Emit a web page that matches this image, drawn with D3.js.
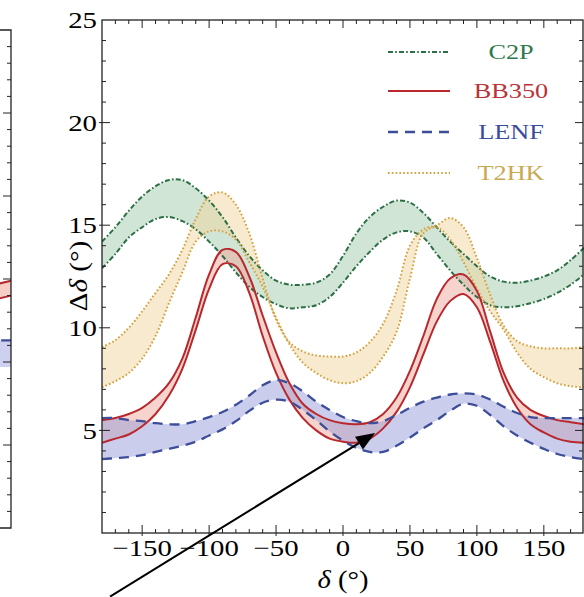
<!DOCTYPE html>
<html>
<head>
<meta charset="utf-8">
<script src="https://cdn.jsdelivr.net/npm/d3@7"></script>
<style>
  body { margin: 0; background: #fff; }
  svg { display: block; }
</style>
</head>
<body>
<div id="chart"></div>
<script>
// delta grid (degrees) shared by every band
const deltas = [-180,-170,-160,-150,-140,-130,-120,-110,-100,-90,-80,-70,-60,-50,-40,-30,-20,-10,0,
                10,20,30,40,50,60,70,80,90,100,110,120,130,140,150,160,170,180];

// C2P band (dash-dot, green)
const c2pUpper = [14.2,14.9,15.7,16.4,16.9,17.2,17.2,16.8,16.2,15.4,14.4,13.5,12.8,12.3,12.1,12.1,12.2,12.6,13.5,
                  14.6,15.4,15.9,16.2,16.1,15.6,14.9,14.2,13.6,13.0,12.5,12.25,12.2,12.3,12.5,12.8,13.3,13.9];
const c2pLower = [12.9,13.6,14.4,14.9,15.3,15.4,15.2,14.8,14.2,13.5,12.7,12.0,11.5,11.15,10.95,11.0,11.1,11.5,12.2,
                  13.0,13.7,14.3,14.65,14.7,14.4,13.6,12.8,12.1,11.5,11.1,11.0,11.05,11.2,11.4,11.7,12.1,12.6];

// BB350 band (solid, red)
const bb350Upper = [5.5,5.6,5.8,6.1,6.6,7.3,8.5,10.5,12.6,13.8,13.7,12.5,10.6,8.8,7.3,6.3,5.8,5.5,5.35,
                    5.3,5.4,5.8,6.6,7.9,9.6,11.4,12.4,12.6,11.8,9.8,7.8,6.6,6.0,5.7,5.5,5.4,5.3];
const bb350Lower = [4.4,4.6,4.8,5.2,5.8,6.7,8.0,9.9,11.9,13.1,13.0,11.7,9.6,7.8,6.5,5.6,5.0,4.6,4.45,
                    4.4,4.6,5.1,5.9,7.1,8.7,10.3,11.3,11.65,11.0,9.3,7.4,6.1,5.3,4.9,4.6,4.45,4.4];

// LENF band (dashed, blue)
const lenfUpper = [5.6,5.6,5.5,5.45,5.35,5.3,5.3,5.45,5.65,5.9,6.25,6.7,7.2,7.45,7.3,6.9,6.4,6.0,5.65,
                   5.45,5.35,5.45,5.75,6.1,6.4,6.6,6.75,6.8,6.75,6.5,6.15,5.85,5.65,5.6,5.6,5.6,5.6];
const lenfLower = [3.6,3.65,3.7,3.8,3.95,4.1,4.25,4.45,4.75,5.05,5.45,5.95,6.35,6.5,6.4,6.0,5.5,4.95,4.5,
                   4.15,3.95,3.95,4.25,4.65,5.1,5.5,5.95,6.3,6.2,5.75,5.2,4.75,4.4,4.1,3.85,3.7,3.6];

// T2HK band (dotted, orange)
const t2hkUpper = [9.05,9.4,10.0,10.8,11.7,12.6,13.8,15.3,16.4,16.6,16.0,14.6,12.4,10.4,9.3,8.85,8.65,8.6,8.6,
                   8.8,9.3,10.2,11.8,14.0,14.8,15.0,15.35,14.9,13.4,11.6,10.1,9.35,9.1,9.0,9.0,9.0,9.05];
const t2hkLower = [7.1,7.4,7.8,8.5,9.6,11.2,12.7,14.2,14.7,14.7,14.3,13.2,12.0,10.5,9.2,8.3,7.8,7.45,7.3,
                   7.4,7.8,8.6,9.8,12.4,14.6,14.9,14.3,13.2,11.9,10.8,9.9,8.8,8.0,7.6,7.3,7.15,7.1];

// right edge of the neighbouring (left) panel that shows at the picture's left border
const leftDeltas = [160,170,180];
const leftRedUpper = [14.5,14.7,14.9];
const leftRedLower = [13.6,13.8,14.0];
const leftBlueUpper = [11.2,11.3,11.3];
const leftBlueLower = [9.6,9.7,9.7];

const xTickLabels = [-150,-100,-50,0,50,100,150];
const yTickLabels = [5,10,15,20,25];
const legendNames = ["C2P","BB350","LENF","T2HK"];

// annotation arrow, in data coordinates
const arrowFrom = [-174,-3.1];
const arrowTo = [24,4.87];

const w = 584, h = 597;
const serif = "'Liberation Serif','Times New Roman',serif";

const svg = d3.select("#chart").append("svg")
  .attr("width", w)
  .attr("height", h);

const x = d3.scaleLinear().domain([-180,180]).range([102,584]);
const y = d3.scaleLinear().domain([0,25]).range([533,20]);

// ---- left panel remains ----
const xl = d3.scaleLinear().domain([-180,180]).range([-471,11]);
const yl = d3.scaleLinear().domain([0,30]).range([528,30]);
const leftG = svg.append("g");
const leftArea = (up, lo) => d3.area()
  .x((d,i) => xl(leftDeltas[i])).y0((d,i) => yl(lo[i])).y1((d,i) => yl(up[i]))(leftDeltas);
const leftLine = arr => d3.line().x((d,i) => xl(leftDeltas[i])).y((d,i) => yl(arr[i]))(leftDeltas);
leftG.append("path").attr("d", leftArea(leftRedUpper, leftRedLower)).attr("fill", "#f5cdc5");
leftG.append("path").attr("d", leftArea(leftBlueUpper, leftBlueLower)).attr("fill", "#cdd0ee");
leftG.append("path").attr("d", leftLine(leftRedUpper)).attr("fill","none").attr("stroke","#b22a2e").attr("stroke-width",2);
leftG.append("path").attr("d", leftLine(leftRedLower)).attr("fill","none").attr("stroke","#b22a2e").attr("stroke-width",2);
leftG.append("path").attr("d", leftLine(leftBlueUpper)).attr("fill","none").attr("stroke","#3d4d9a")
  .attr("stroke-width",2.2).attr("stroke-dasharray","10,7");
leftG.append("path")
  .attr("d", `M0,${yl(30)}H${xl(180)}V${yl(0)}H0`)
  .attr("fill","none").attr("stroke","#222").attr("stroke-width",1.3);
leftG.selectAll("line.lt")
  .data(d3.range(1,30))
  .join("line")
  .attr("x1", xl(180)).attr("x2", d => xl(180) - (d % 5 === 0 ? 8 : 4))
  .attr("y1", d => yl(d)).attr("y2", d => yl(d))
  .attr("stroke","#222").attr("stroke-width",1);

// ---- main panel ----
svg.append("defs").append("clipPath").attr("id","plotclip")
  .append("rect").attr("x",102).attr("y",20).attr("width",482).attr("height",513);

const series = [
  {name:"C2P",   up:c2pUpper,   lo:c2pLower,   stroke:"#2b6f46", fill:"#a3ccae", op:0.5,  dash:"5,2.2,1.6,2.2", sw:2,   text:"#2f7a4c"},
  {name:"T2HK",  up:t2hkUpper,  lo:t2hkLower,  stroke:"#d4a03c", fill:"#f0d5a0", op:0.5,  dash:"1.6,2.2",       sw:2,   text:"#c9a950"},
  {name:"BB350", up:bb350Upper, lo:bb350Lower, stroke:"#b8282d", fill:"#eea79a", op:0.5,  dash:null,            sw:2,   text:"#b8333a"},
  {name:"LENF",  up:lenfUpper,  lo:lenfLower,  stroke:"#3d4d9a", fill:"#969ed9", op:0.5,  dash:"10,7",          sw:2.3, text:"#3a4b9c"}
];

const curve = d3.curveCatmullRom.alpha(0.5);
const plot = svg.append("g").attr("clip-path","url(#plotclip)");

series.forEach(s => {
  const area = d3.area()
    .x((d,i) => x(deltas[i]))
    .y0((d,i) => y(s.lo[i]))
    .y1((d,i) => y(s.up[i]))
    .curve(curve);
  plot.append("path").datum(deltas).attr("d", area)
    .attr("fill", s.fill).attr("fill-opacity", s.op);
});

series.forEach(s => {
  [s.up, s.lo].forEach(arr => {
    const line = d3.line().x((d,i) => x(deltas[i])).y((d,i) => y(arr[i])).curve(curve);
    plot.append("path").datum(deltas).attr("d", line)
      .attr("fill","none")
      .attr("stroke", s.stroke)
      .attr("stroke-width", s.sw)
      .attr("stroke-dasharray", s.dash);
  });
});

// frame
svg.append("rect")
  .attr("x",102).attr("y",20).attr("width",481).attr("height",513)
  .attr("fill","none").attr("stroke","#222").attr("stroke-width",1.3);

// ticks, inward on all four sides
const tickG = svg.append("g").attr("stroke","#222").attr("stroke-width",1);
const xTicks = d3.range(-170,180,10);
const yTicks = d3.range(1,25,1);
const isMajX = d => d % 50 === 0, isMajY = d => d % 5 === 0;
tickG.selectAll("line.xb").data(xTicks).join("line")
  .attr("x1", d => x(d)).attr("x2", d => x(d))
  .attr("y1", d => y(0) + (isMajX(d) ? 3 : 0)).attr("y2", d => y(0) - (isMajX(d) ? 8 : 4));
tickG.selectAll("line.xt").data(xTicks).join("line")
  .attr("x1", d => x(d)).attr("x2", d => x(d))
  .attr("y1", y(25)).attr("y2", d => y(25) + (isMajX(d) ? 8 : 4));
tickG.selectAll("line.yl").data(yTicks).join("line")
  .attr("y1", d => y(d)).attr("y2", d => y(d))
  .attr("x1", d => x(-180) - (isMajY(d) ? 3 : 0)).attr("x2", d => x(-180) + (isMajY(d) ? 8 : 4));
tickG.selectAll("line.yr").data(yTicks).join("line")
  .attr("y1", d => y(d)).attr("y2", d => y(d))
  .attr("x1", 583).attr("x2", d => 583 - (isMajY(d) ? 8 : 4));

// tick labels (the picture's type is slightly stretched horizontally)
const fmt = d3.format("d");
svg.append("g").selectAll("text").data(xTickLabels).join("text")
  .attr("transform", d => `translate(${x(d)},556) scale(1.2,1)`)
  .attr("text-anchor","middle")
  .style("font-family", serif).style("font-size","24px").attr("fill","#000")
  .text(d => fmt(d));
svg.append("g").selectAll("text").data(yTickLabels).join("text")
  .attr("transform", d => `translate(97,${y(d)}) scale(1.2,1)`)
  .attr("text-anchor","end").attr("dy","0.34em")
  .style("font-family", serif).style("font-size","24px").attr("fill","#000")
  .text(d => fmt(d));

// axis titles
const xTitle = svg.append("text")
  .attr("transform","translate(343,588) scale(1.1,1)")
  .attr("text-anchor","middle")
  .style("font-family", serif).style("font-size","26px").attr("fill","#000");
xTitle.append("tspan").style("font-style","italic").text("δ");
xTitle.append("tspan").text(" (°)");

const yTitle = svg.append("text")
  .attr("transform","translate(87,276) rotate(-90) scale(1.12,1)")
  .attr("text-anchor","middle")
  .style("font-family", serif).style("font-size","26px").attr("fill","#000");
yTitle.append("tspan").text("Δ");
yTitle.append("tspan").style("font-style","italic").text("δ");
yTitle.append("tspan").text(" (°)");

// legend
const legendOrder = ["C2P","BB350","LENF","T2HK"];
const legendY = [52,91,132,173];
const legend = svg.append("g").attr("id","legend");
legendOrder.forEach((name, i) => {
  const s = series.find(d => d.name === name);
  legend.append("line")
    .attr("x1",388).attr("x2",450).attr("y1",legendY[i]).attr("y2",legendY[i])
    .attr("stroke", s.stroke).attr("stroke-width", s.sw).attr("stroke-dasharray", s.dash);
  legend.append("text")
    .attr("transform", `translate(511,${legendY[i]}) scale(1.25,1)`)
    .attr("text-anchor","middle").attr("dy","0.35em")
    .style("font-family", serif).style("font-size","21px")
    .attr("fill", s.text)
    .text(legendNames[legendNames.indexOf(name)]);
});

// annotation arrow
const p0 = [x(arrowFrom[0]), y(arrowFrom[1])];
const p1 = [x(arrowTo[0]), y(arrowTo[1])];
const ang = Math.atan2(p1[1] - p0[1], p1[0] - p0[0]);
const headLen = 19, headHalf = 7.5;
const base = [p1[0] - headLen * Math.cos(ang), p1[1] - headLen * Math.sin(ang)];
svg.append("line")
  .attr("x1", p0[0]).attr("y1", p0[1]).attr("x2", base[0]).attr("y2", base[1])
  .attr("stroke","#000").attr("stroke-width",2);
svg.append("path")
  .attr("d", `M${p1[0]},${p1[1]}` +
    `L${base[0] - headHalf * Math.sin(ang)},${base[1] + headHalf * Math.cos(ang)}` +
    `L${base[0] + headHalf * Math.sin(ang)},${base[1] - headHalf * Math.cos(ang)}Z`)
  .attr("fill","#000");
</script>
</body>
</html>
